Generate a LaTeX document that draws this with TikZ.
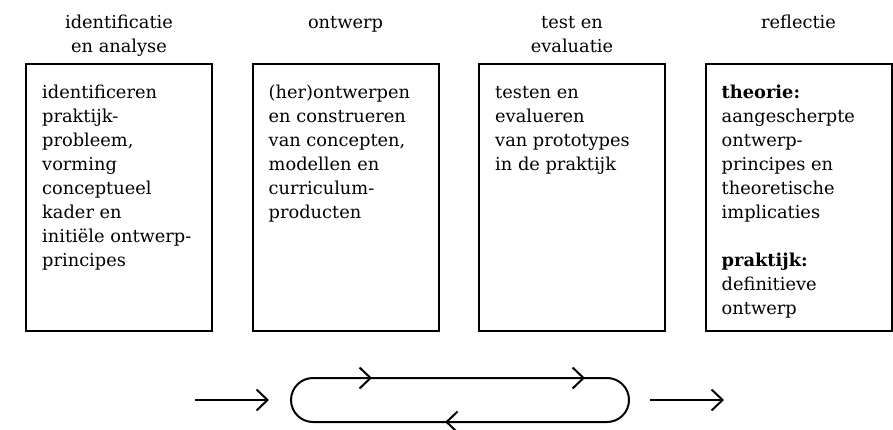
\documentclass[tikz,border=0pt]{standalone}
\usepackage{fontspec}
\setmainfont{DejaVu Serif}
\usetikzlibrary{positioning, decorations.markings, arrows.meta}

\tikzset{
  box/.style={draw, line width=2pt, minimum width=186pt, minimum height=267pt, inner sep=0pt, outer sep=0pt},
  phase/.style={align=center, inner sep=0pt, anchor=north},
  body/.style={align=left, inner sep=0pt, anchor=north west},
  barb/.tip={Straight Barb[length=11pt, width=21pt]},
  flow/.style={line width=2pt, -barb},
  cycle marks/.style={line width=2pt,
    decoration={markings,
      mark=at position 59pt with {\arrow{barb}},
      mark=at position 272pt with {\arrow{barb}},
      mark=at position 525pt with {\arrow{barb}}},
    postaction={decorate}},
}

\begin{document}
\begin{tikzpicture}[x=1pt, y=1pt, font=\fontsize{17.8}{24}\selectfont, node distance=40.5pt]
  \useasboundingbox (0,0) rectangle (893,429);
  % the four phases
  \node[box, anchor=north west] (b1) at (26,365) {};
  \node[box, right=of b1] (b2) {};
  \node[box, right=of b2] (b3) {};
  \node[box, right=of b3] (b4) {};
  \coordinate (top) at (0,417.8);
  \node[phase] (h1) at (b1 |- top) {\strut identificatie\\en analyse};
  \node[phase] (h2) at (b2 |- top) {\strut ontwerp};
  \node[phase] (h3) at (b3 |- top) {\strut test en\\evaluatie};
  \node[phase] (h4) at (b4 |- top) {\strut reflectie};
  \node[body] (t1) at ([xshift=16pt, yshift=-17.5pt]b1.north west)
    {\strut identificeren\\praktijk-\\probleem,\\vorming\\conceptueel\\kader en\\initiële ontwerp-\\principes};
  \node[body] (t2) at ([xshift=16pt, yshift=-17.5pt]b2.north west)
    {\strut (her)ontwerpen\\en construeren\\van concepten,\\modellen en\\curriculum-\\producten};
  \node[body] (t3) at ([xshift=16pt, yshift=-17.5pt]b3.north west)
    {\strut testen en\\evalueren\\van prototypes\\in de praktijk};
  \node[body] (t4) at ([xshift=16pt, yshift=-17.5pt]b4.north west)
    {\strut\textbf{theorie:}\\aangescherpte\\ontwerp-\\principes en\\theoretische\\implicaties\\[24pt]\textbf{praktijk:}\\definitieve\\ontwerp};
  % iterative cycle
  \coordinate (start) at (195,29);
  \coordinate (enter) at (269,29);
  \coordinate (leave) at (650,29);
  \coordinate (finish) at (724,29);
  \draw[flow] (start) -- (enter);
  \draw[cycle marks] (313,51) -- (607,51) arc[start angle=90, end angle=-90, radius=22]
    -- (313,7) arc[start angle=270, end angle=90, radius=22] -- cycle;
  \draw[flow] (leave) -- (finish);
\end{tikzpicture}
\end{document}
